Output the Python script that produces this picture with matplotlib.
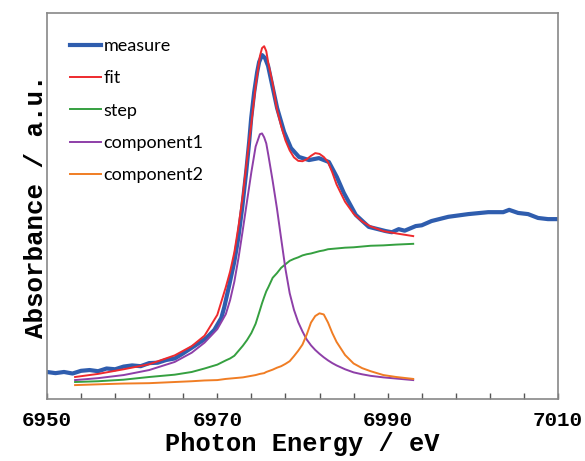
import numpy as np
import matplotlib.pyplot as plt

# measured spectrum
measure_e = [6950.0, 6951.0, 6952.0, 6953.0, 6954.0, 6955.0, 6956.0, 6957.0, 6958.0, 6959.0,
             6960.0, 6961.0, 6962.0, 6963.0, 6964.0, 6965.0, 6965.9, 6967.5, 6968.71, 6969.65,
             6970.47, 6970.82, 6971.4, 6971.99, 6972.46, 6972.92, 6973.39, 6973.74, 6973.98, 6974.33,
             6974.68, 6974.91, 6975.26, 6975.61, 6975.96, 6976.32, 6977.02, 6977.84, 6978.65, 6979.59,
             6980.76, 6981.93, 6983.1, 6984.04, 6984.85, 6986.26, 6987.78, 6989.77, 6990.5, 6991.3,
             6992.0, 6993.3, 6994.0, 6995.15, 6997.13, 6999.47, 7001.81, 7003.57, 7004.27, 7005.32,
             7006.49, 7007.66, 7008.83, 7009.77]
measure_a = [0.070, 0.067, 0.070, 0.066, 0.073, 0.075, 0.072, 0.079, 0.077, 0.084,
             0.087, 0.085, 0.093, 0.094, 0.101, 0.105, 0.117, 0.140, 0.158, 0.179,
             0.210, 0.238, 0.295, 0.355, 0.417, 0.495, 0.588, 0.666, 0.728, 0.795,
             0.847, 0.873, 0.891, 0.883, 0.863, 0.826, 0.754, 0.692, 0.650, 0.627,
             0.619, 0.624, 0.614, 0.575, 0.534, 0.477, 0.446, 0.435, 0.432, 0.440,
             0.436, 0.448, 0.450, 0.461, 0.472, 0.479, 0.484, 0.484, 0.490, 0.482,
             0.479, 0.469, 0.466, 0.466]

# fit result and its parts, on one energy grid
fit_e = [6953.3, 6956, 6959, 6962, 6965, 6967, 6968.5, 6970, 6971, 6971.5, 6972, 6972.5,
         6973, 6973.5, 6974, 6974.5, 6975, 6975.25, 6975.5, 6975.75, 6976, 6976.5, 6977, 6977.5,
         6978, 6978.5, 6979, 6979.5, 6980, 6980.5, 6981, 6981.5, 6982, 6982.5, 6983, 6983.5,
         6984, 6985, 6986, 6987, 6988, 6989.5, 6991, 6993]
fit_a = [0.057, 0.065, 0.077, 0.090, 0.113, 0.137, 0.164, 0.218, 0.290, 0.330, 0.380, 0.449,
         0.528, 0.624, 0.715, 0.811, 0.888, 0.909, 0.914, 0.901, 0.869, 0.817, 0.750, 0.707,
         0.670, 0.644, 0.626, 0.617, 0.616, 0.621, 0.630, 0.637, 0.635, 0.627, 0.614, 0.587,
         0.556, 0.511, 0.480, 0.460, 0.447, 0.435, 0.429, 0.422]
step_a = [0.044, 0.046, 0.050, 0.057, 0.063, 0.070, 0.079, 0.089, 0.100, 0.105, 0.112, 0.125,
          0.138, 0.153, 0.171, 0.195, 0.230, 0.248, 0.264, 0.279, 0.290, 0.314, 0.326, 0.340,
          0.349, 0.358, 0.363, 0.367, 0.372, 0.375, 0.377, 0.380, 0.383, 0.385, 0.388, 0.389,
          0.390, 0.392, 0.393, 0.395, 0.397, 0.398, 0.400, 0.402]
comp1_a = [0.049, 0.054, 0.062, 0.075, 0.096, 0.120, 0.146, 0.181, 0.220, 0.256, 0.304, 0.367,
           0.439, 0.514, 0.588, 0.654, 0.686, 0.688, 0.678, 0.662, 0.631, 0.565, 0.494, 0.415,
           0.337, 0.274, 0.231, 0.199, 0.175, 0.154, 0.139, 0.127, 0.117, 0.108, 0.100, 0.093,
           0.087, 0.077, 0.069, 0.064, 0.060, 0.056, 0.053, 0.049]
comp2_a = [0.036, 0.038, 0.040, 0.041, 0.044, 0.046, 0.048, 0.049, 0.052, 0.053, 0.054, 0.055,
           0.056, 0.058, 0.060, 0.062, 0.065, 0.066, 0.067, 0.070, 0.072, 0.076, 0.081, 0.085,
           0.091, 0.098, 0.111, 0.125, 0.141, 0.167, 0.198, 0.215, 0.222, 0.219, 0.198, 0.171,
           0.148, 0.114, 0.092, 0.080, 0.072, 0.062, 0.057, 0.052]

major_ticks = [6950, 6970, 6990, 7010]

fig = plt.figure(figsize=(5.85, 4.61), dpi=100)
ax = fig.add_axes([0.0803, 0.1345, 0.8735, 0.8373])

ax.plot(measure_e, measure_a, color='#2F5DAE', lw=3.0, label='measure', solid_joinstyle='round')
ax.plot(fit_e, fit_a, color='#EE2A2E', lw=1.4, label='fit', solid_joinstyle='round')
ax.plot(fit_e, step_a, color='#35A040', lw=1.4, label='step', solid_joinstyle='round')
ax.plot(fit_e, comp1_a, color='#8E3FA8', lw=1.4, label='component1', solid_joinstyle='round')
ax.plot(fit_e, comp2_a, color='#F07D24', lw=1.4, label='component2', solid_joinstyle='round')

ax.set_xlim(6950, 7010)
ax.set_ylim(0, 1)
ax.set_xticks(major_ticks)
ax.set_xticks(np.arange(6950, 7011, 4), minor=True)
ax.tick_params(axis='x', which='both', direction='in', length=4, width=1, color='#555555', pad=9)
ax.tick_params(axis='y', left=False, labelleft=False)
for s in ax.spines.values():
    s.set_color('#888888')
    s.set_linewidth(1.2)

mono = {'family': 'Liberation Mono', 'weight': 'bold'}
for t in ax.get_xticklabels():
    t.set_fontfamily('Liberation Mono')
    t.set_fontweight('bold')
    t.set_fontsize(15)
ax.set_xlabel('Photon Energy / eV', fontdict=mono, fontsize=18.3, labelpad=1)
ax.set_ylabel('Absorbance / a.u.', fontdict=mono, fontsize=18.6, labelpad=-1)

ax.legend(loc='upper left', bbox_to_anchor=(0.045, 0.935), frameon=False,
          prop={'family': 'Lato', 'size': 13}, handlelength=1.7,
          handletextpad=0.15, labelspacing=0.9, borderpad=0, borderaxespad=0)

fig.savefig('out.png', dpi=100)
